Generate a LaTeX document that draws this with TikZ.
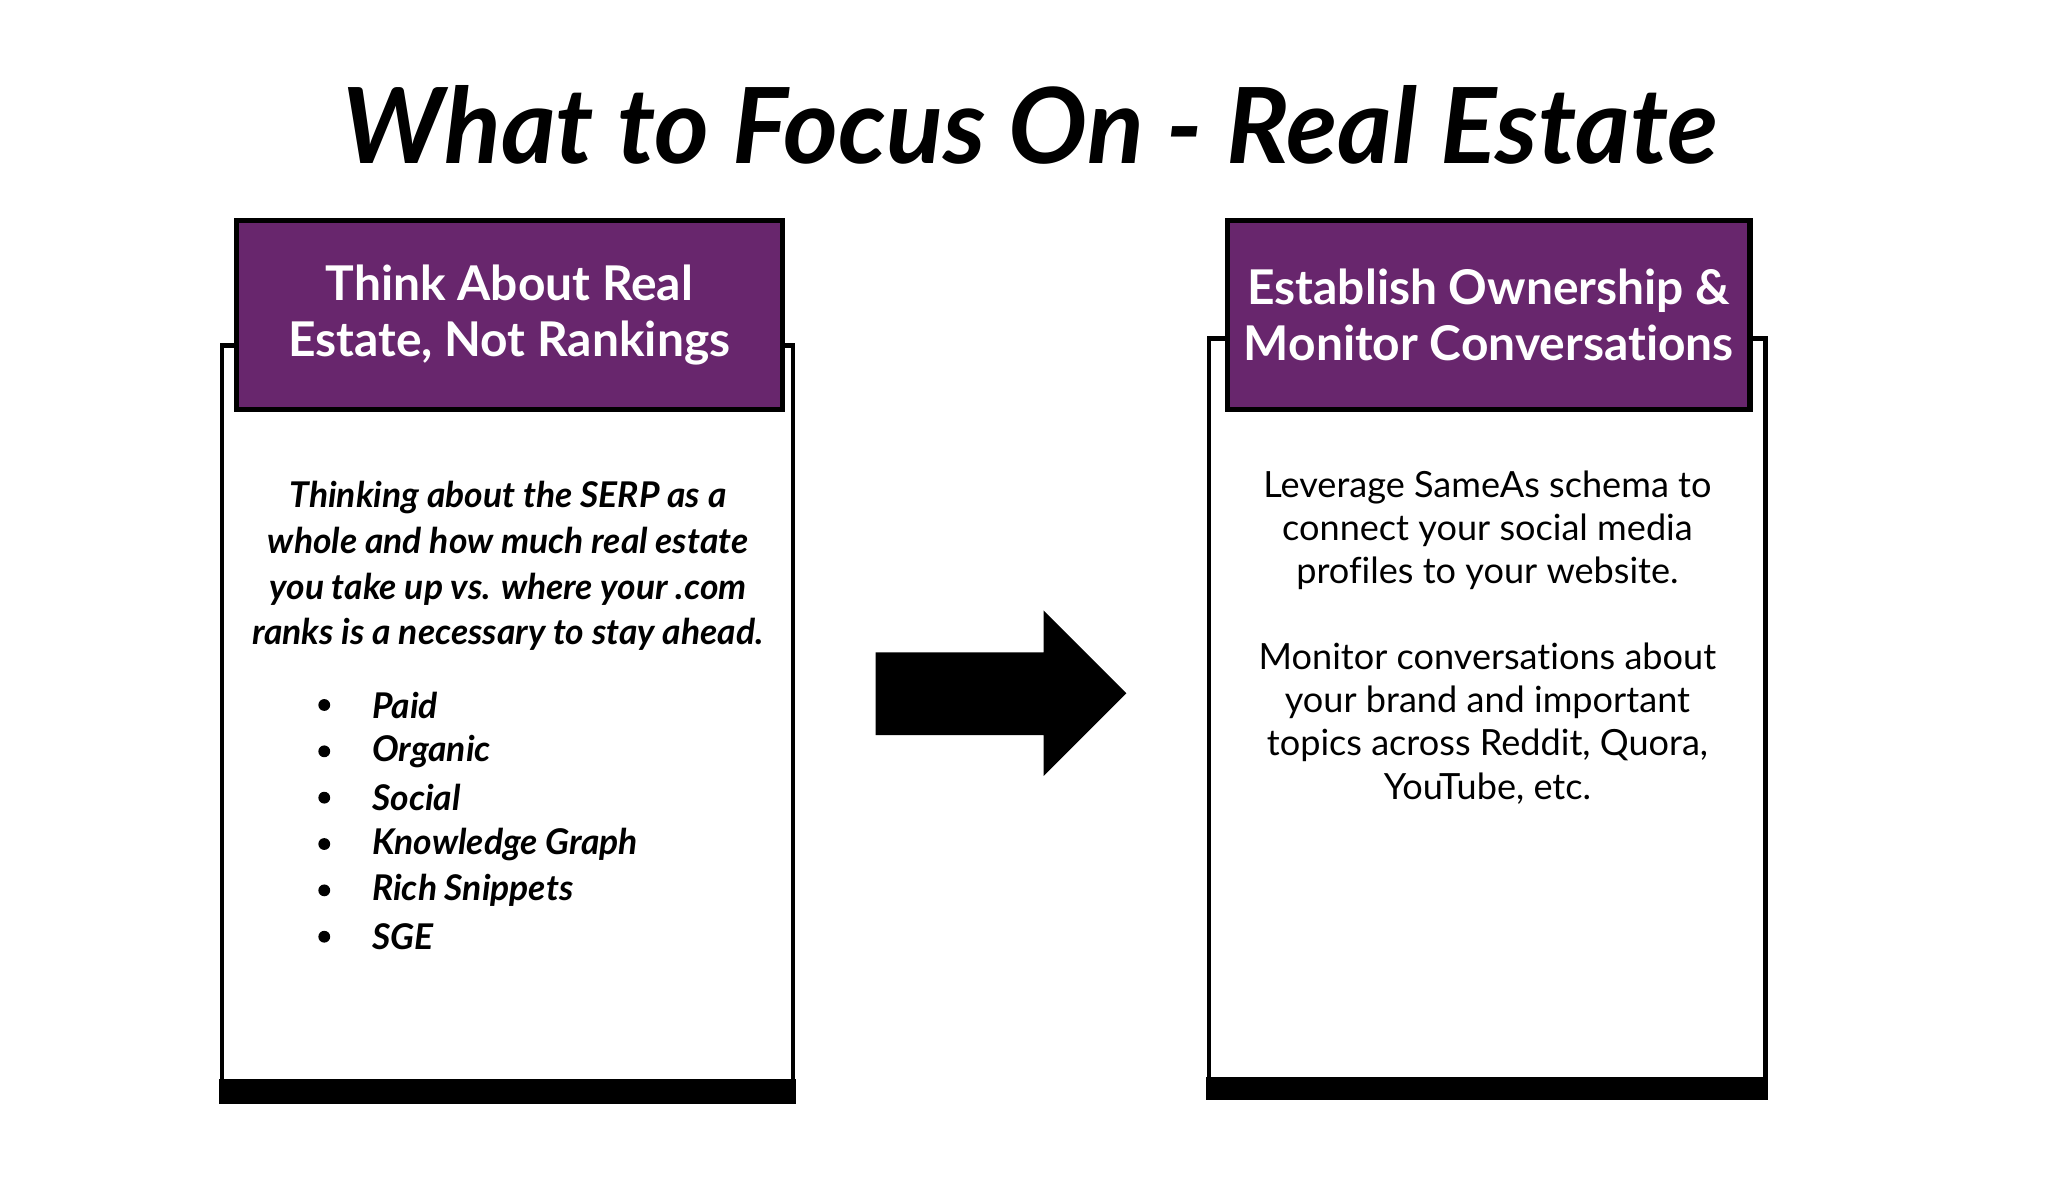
\documentclass[tikz,border=0pt]{standalone}
\usepackage{fontspec}
\setmainfont[Ligatures=NoCommon]{Lato}
\definecolor{purp}{HTML}{68266D}
\begin{document}
\begin{tikzpicture}[x=1pt,y=-1pt,
  outer/.style={draw=black,line width=3.5pt,fill=white},
  head/.style={draw=black,line width=4pt,fill=purp},
  htext/.style={text=white,font=\fontsize{36.5}{43}\selectfont\bfseries,align=center},
  btext/.style={align=center}]
\useasboundingbox (0,0) rectangle (1560,900);
\node[font=\fontsize{80}{82}\selectfont\bfseries\itshape] (title) at (785,95) {What to Focus On - Real Estate};
% left
\draw[outer] (169,263) rectangle (604,838);
\fill (167,822) rectangle (606,841);
\draw[head] (180,168) rectangle (596,312);
\node[htext] (lh) at (388,240) {Think About Real\\Estate, Not Rankings};
\node[btext,font=\fontsize{27}{35}\selectfont\bfseries\itshape] (lb) at (387,431) {Thinking about the SERP as a\\whole and how much real estate\\you take up vs. where your .com\\ranks is a necessary to stay ahead.};
\foreach \t [count=\i] in {Paid,Organic,Social,Knowledge Graph,Rich Snippets,SGE}{
  \fill (247,{537+35.3*(\i-1)}) circle (4.5);
  \node[anchor=west,font=\fontsize{27}{30}\selectfont\bfseries\itshape] (b\i) at (280,{537+35.3*(\i-1)}) {\t};
}
% right
\draw[outer] (921,258) rectangle (1345,835);
\fill (919,820) rectangle (1347,838);
\draw[head] (935,168) rectangle (1333,312);
\node[htext] (rh) at (1134,240) {Establish Ownership \&\\Monitor Conversations};
\node[btext,font=\fontsize{27.5}{33}\selectfont] (rb1) at (1133,404) {Leverage SameAs schema to\\connect your social media\\profiles to your website.};
\node[btext,font=\fontsize{27.5}{33}\selectfont] (rb2) at (1133,551) {Monitor conversations about\\your brand and important\\topics across Reddit, Quora,\\YouTube, etc.};
% arrow
\fill (667,497) -- (795,497) -- (795,465) -- (858,528) -- (795,591) -- (795,560) -- (667,560) -- cycle;
\end{tikzpicture}
\end{document}
